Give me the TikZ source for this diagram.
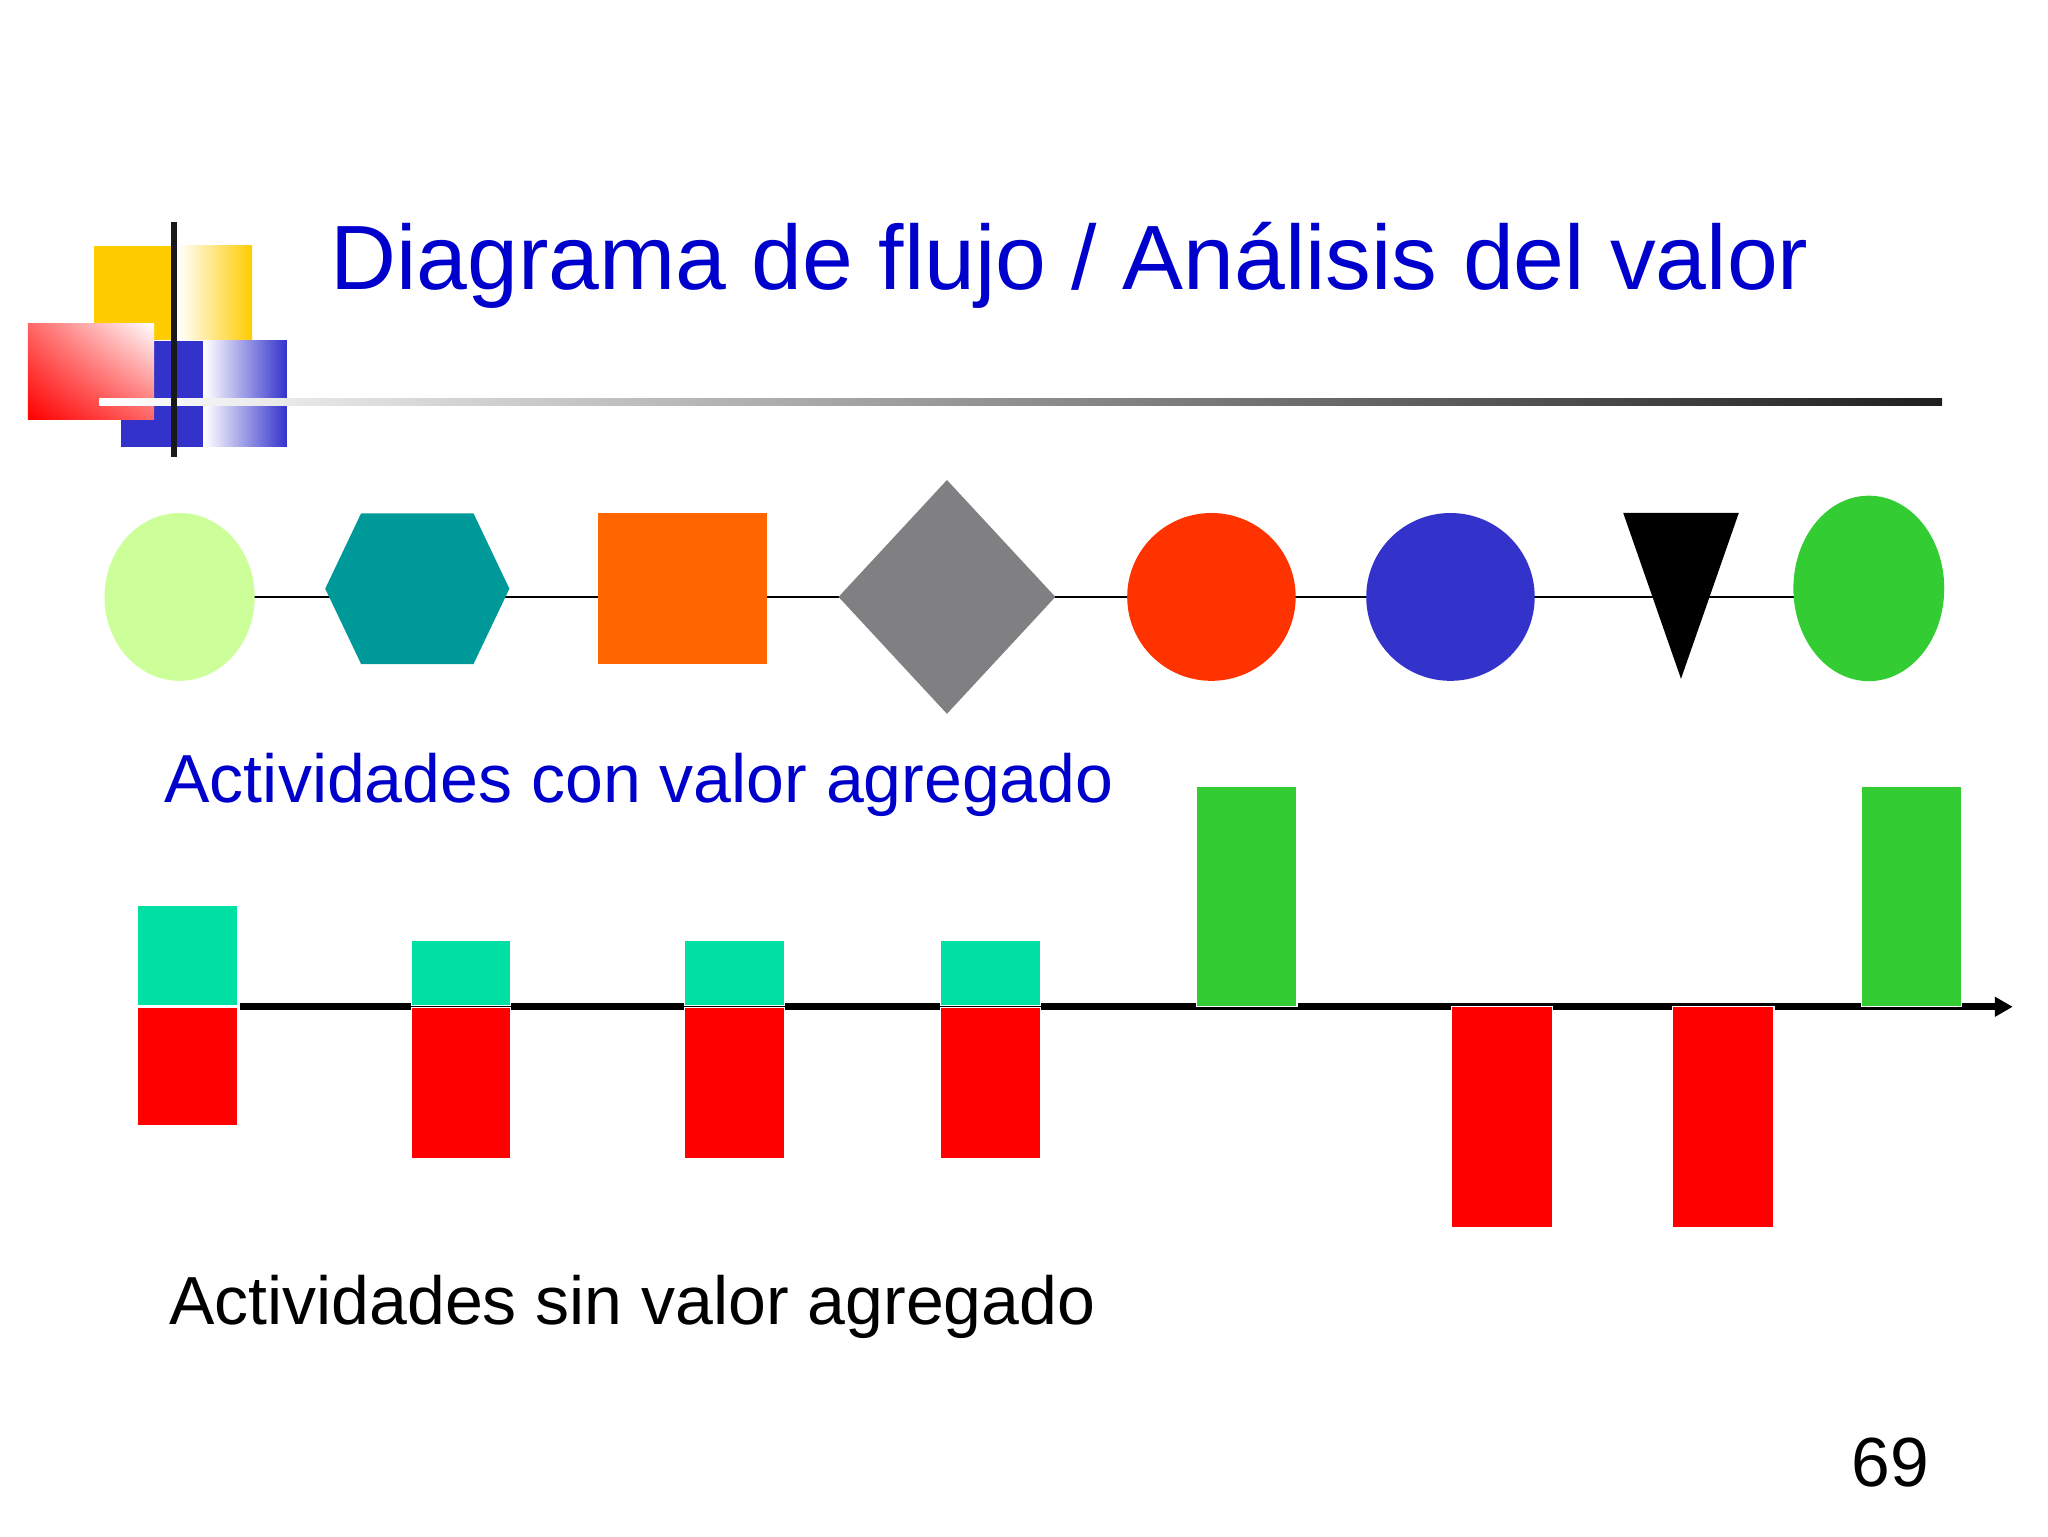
\documentclass[tikz,border=0pt]{standalone}
\usepackage{fontspec}
\setmainfont{Liberation Sans}
\usepackage{tikz}
\usetikzlibrary{shapes.geometric,arrows.meta,calc,shadings}
\pgfdeclarelayer{back}
\pgfsetlayers{back,main}

\definecolor{titleblue}{HTML}{0000CC}
\definecolor{logoyellow}{HTML}{FFCC00}
\definecolor{logoblue}{HTML}{3333CC}
\definecolor{lightlime}{HTML}{CCFF99}
\definecolor{hexteal}{HTML}{009999}
\definecolor{boxorange}{HTML}{FF6600}
\definecolor{diagray}{HTML}{807F82}
\definecolor{redorange}{HTML}{FF3300}
\definecolor{endgreen}{HTML}{33CC33}
\definecolor{mint}{HTML}{00E0A3}
\newcommand{\pxu}{0.1306mm}

\begin{document}
\begin{tikzpicture}[x=0.1306mm, y=-0.1306mm,
	shape_node/.style={draw=none, inner sep=0pt, outer sep=0pt},
	holder_node/.style={shape_node, rectangle},
	flow_line/.style={draw=black, line width=0.6pt},
	bar/.style={draw=white, line width=0.3pt},
	label_text/.style={anchor=base west, inner sep=0pt, font=\fontsize{19.35}{23}\selectfont}]
	\useasboundingbox (0,0) rectangle (1568,1176);
	% logo
	\fill[logoyellow] (72,188) rectangle (131,260);
	\shade[left color=white, right color=logoyellow] (136,188) rectangle (193,260);
	\fill[logoblue] (92.6,261) rectangle (155.4,342);
	\shade[left color=white, right color=logoblue] (156.4,261) rectangle (219.7,342);
	\shade[lower left=red, upper right=white, upper left=red!60!white, lower right=red!60!white] (21.4,248) rectangle (118,321);
	\shade[left color=white, right color=black!88] (76,305.3) rectangle (1487,310.7);
	\fill[black!90] (131,170) rectangle (135.5,350);
	\node[anchor=base west, inner sep=0pt, text=titleblue, font=\fontsize{26}{31}\selectfont] (title) at (252.5,221.5) {Diagrama de flujo / Análisis del valor};
	% flow
	\node[shape_node, ellipse, fill=lightlime, minimum width=115*\pxu, minimum height=128.5*\pxu] (el1) at (137.5,457) {};
	\node[holder_node, minimum width=141*\pxu, minimum height=115.5*\pxu] (hex) at (319.5,450.7) {};
	\node[shape_node, rectangle, fill=boxorange, minimum width=129*\pxu, minimum height=115.5*\pxu] (box) at (522.5,450.7) {};
	\node[shape_node, diamond, fill=diagray, minimum width=166*\pxu, minimum height=179*\pxu] (dia) at (725,457) {};
	\node[shape_node, ellipse, fill=redorange, minimum width=129*\pxu, minimum height=128.5*\pxu] (c1) at (927.5,457) {};
	\node[shape_node, ellipse, fill=logoblue, minimum width=129*\pxu, minimum height=128.5*\pxu] (c2) at (1110.5,457) {};
	\node[holder_node, minimum width=88.5*\pxu, minimum height=127*\pxu] (tri) at (1287,456.2) {};
	\node[shape_node, ellipse, fill=endgreen, minimum width=115.5*\pxu, minimum height=142*\pxu] (el2) at (1430.8,450.5) {};
	\fill[hexteal] (hex.west) -- ($(hex.north west)!0.195!(hex.north east)$) -- ($(hex.north east)!0.195!(hex.north west)$)
		-- (hex.east) -- ($(hex.south east)!0.195!(hex.south west)$) -- ($(hex.south west)!0.195!(hex.south east)$) -- cycle;
	\fill[black] (tri.north west) -- (tri.north east) -- (tri.south) -- cycle;
	\begin{pgfonlayer}{back}
		\foreach \a/\b in {el1/hex, hex/box, box/dia, dia/c1, c1/c2, c2/tri, tri/el2}
			\path[flow_line] (\a.center |- el1.center) edge (\b.center |- el1.center);
	\end{pgfonlayer}
	\node[label_text, text=titleblue] (con) at (125.5,614.6) {Actividades con valor agregado};
	% value axis
	\coordinate (axis_start) at (183.8,770.8);
	\coordinate (axis_end) at (1541,770.8);
	\draw[line width=1.9pt, -{Triangle[length=1.8mm,width=1.9mm]}] (axis_start) -- (axis_end);
	\foreach \x/\t/\b in {105.4/693.4/861.4, 314.7/719.7/886.6, 524/719.7/886.6, 720/719.7/886.6}{
		\draw[bar, fill=mint] (\x,\t) rectangle (\x+76.4,769.9);
		\draw[bar, fill=red] (\x,771.7) rectangle (\x+76.4,\b);
	}
	\foreach \x in {916,1425}
		\draw[bar, fill=endgreen] (\x,601.8) rectangle (\x+77,770.8);
	\foreach \x in {1111,1280.7}
		\draw[bar, fill=red] (\x,770.8) rectangle (\x+77.5,939.7);
	\node[label_text] (sin) at (128.9,1013.8) {Actividades sin valor agregado};
	\node[anchor=base west, inner sep=0pt, font=\fontsize{19.8}{24}\selectfont] (page) at (1417,1138.3) {69};
\end{tikzpicture}
\end{document}
